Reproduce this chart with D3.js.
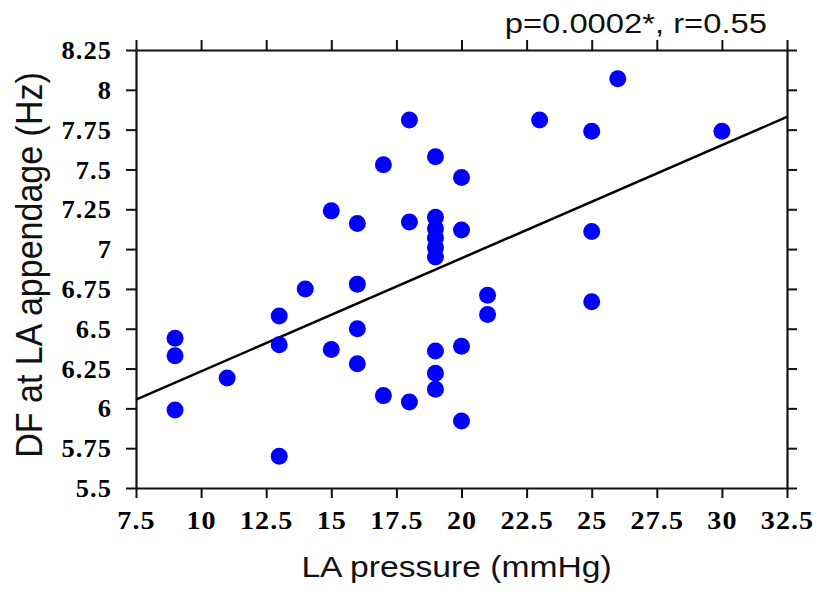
<!DOCTYPE html>
<html>
<head>
<meta charset="utf-8">
<script src="https://cdn.jsdelivr.net/npm/d3@7"></script>
<style>
  body { margin: 0; background: #fff; }
</style>
</head>
<body>
<div id="chart"></div>
<script>
// LA pressure (mmHg) and DF at LA appendage (Hz), one entry per patient
const pressure = [9, 9, 9, 11, 13, 13, 13, 14, 15, 15,
                  16, 16, 16, 16, 17, 17, 18, 18, 18,
                  19, 19, 19, 19, 19, 19, 19, 19, 19,
                  20, 20, 20, 20, 21, 21, 23, 25, 25, 25, 26, 30];
const df = [6.44, 6.33, 5.99, 6.19, 6.58, 6.40, 5.70, 6.75, 7.24, 6.37,
            7.16, 6.78, 6.50, 6.28, 7.53, 6.08, 7.81, 7.17, 6.04,
            7.58, 7.20, 7.13, 7.07, 7.01, 6.95, 6.36, 6.22, 6.12,
            7.45, 7.12, 6.39, 5.92, 6.71, 6.59, 7.81, 7.74, 7.11, 6.67, 8.07, 7.74];

const xTicks = [7.5, 10, 12.5, 15, 17.5, 20, 22.5, 25, 27.5, 30, 32.5];
const yTicks = [5.5, 5.75, 6, 6.25, 6.5, 6.75, 7, 7.25, 7.5, 7.75, 8, 8.25];

// linear fit shown on the chart
const fitSlope = 0.0710;
const fitIntercept = 5.5225;
const statText = "p=0.0002*, r=0.55";

const width = 821, height = 593;
const margin = {top: 50, right: 34, bottom: 105, left: 136};
const w = width - margin.left - margin.right;
const h = height - margin.top - margin.bottom;

const svg = d3.select("#chart").append("svg")
    .attr("width", width)
    .attr("height", height);

const g = svg.append("g")
    .attr("transform", "translate(" + margin.left + "," + margin.top + ")");

const x = d3.scaleLinear().domain([7.5, 32.5]).range([0, w]);
const y = d3.scaleLinear().domain([5.5, 8.25]).range([h, 0]);

const stretch = 1.08;
const tickFont = "'Liberation Serif', 'DejaVu Serif', serif";

// bottom axis with labels
const xAxis = g.append("g")
    .attr("transform", "translate(0," + h + ")")
    .call(d3.axisBottom(x).tickValues(xTicks).tickSize(10).tickSizeOuter(0)
        .tickFormat(d => String(d)));
// left axis with labels
const yAxis = g.append("g")
    .call(d3.axisLeft(y).tickValues(yTicks).tickSize(10).tickSizeOuter(0)
        .tickFormat(d => String(d)));
// top and right axes: ticks only
const topAxis = g.append("g")
    .call(d3.axisTop(x).tickValues(xTicks).tickSize(10).tickSizeOuter(0).tickFormat(""));
const rightAxis = g.append("g")
    .attr("transform", "translate(" + w + ",0)")
    .call(d3.axisRight(y).tickValues(yTicks).tickSize(10).tickSizeOuter(0).tickFormat(""));

[xAxis, yAxis, topAxis, rightAxis].forEach(function(a) {
  a.select(".domain").attr("stroke", "#111").attr("stroke-width", 2.2);
  a.selectAll(".tick line").attr("stroke", "#111").attr("stroke-width", 2);
});

xAxis.selectAll(".tick text")
    .attr("font-family", tickFont)
    .attr("font-weight", "bold")
    .attr("font-size", "26px")
    .attr("letter-spacing", "1px")
    .attr("fill", "#000")
    .attr("y", 0)
    .attr("dy", 41)
    .attr("transform", "scale(" + stretch + ",1)");

yAxis.selectAll(".tick text")
    .attr("font-family", tickFont)
    .attr("font-weight", "bold")
    .attr("font-size", "24.5px")
    .attr("letter-spacing", "1px")
    .attr("fill", "#000")
    .attr("x", -24 / stretch)
    .attr("dy", "0.35em")
    .attr("transform", "scale(" + stretch + ",1)");

// regression line
g.append("line")
    .attr("x1", x(7.5))
    .attr("y1", y(fitIntercept + fitSlope * 7.5))
    .attr("x2", x(32.5))
    .attr("y2", y(fitIntercept + fitSlope * 32.5))
    .attr("stroke", "#000")
    .attr("stroke-width", 2.5);

// points
g.selectAll("circle.pt")
    .data(pressure)
    .enter()
    .append("circle")
    .attr("class", "pt")
    .attr("cx", (d, i) => x(d))
    .attr("cy", (d, i) => y(df[i]))
    .attr("r", 8.5)
    .attr("fill", "#0000ff");

const labelFont = "'Liberation Sans', Arial, sans-serif";

// x title
svg.append("text")
    .attr("transform", "translate(" + (margin.left + w / 2 - 5) + ",577) scale(1.16,1)")
    .attr("text-anchor", "middle")
    .attr("font-family", labelFont)
    .attr("font-size", "29px")
    .attr("fill", "#111")
    .text("LA pressure (mmHg)");

// y title
svg.append("text")
    .attr("transform", "translate(42," + 265 + ") scale(1.1,1) rotate(-90)")
    .attr("text-anchor", "middle")
    .attr("font-family", labelFont)
    .attr("font-size", "34px")
    .attr("fill", "#111")
    .text("DF at LA appendage (Hz)");

// stats text
svg.append("text")
    .attr("transform", "translate(767,33) scale(1.17,1)")
    .attr("text-anchor", "end")
    .attr("font-family", labelFont)
    .attr("font-size", "28px")
    .attr("fill", "#111")
    .text(statText);
</script>
</body>
</html>
